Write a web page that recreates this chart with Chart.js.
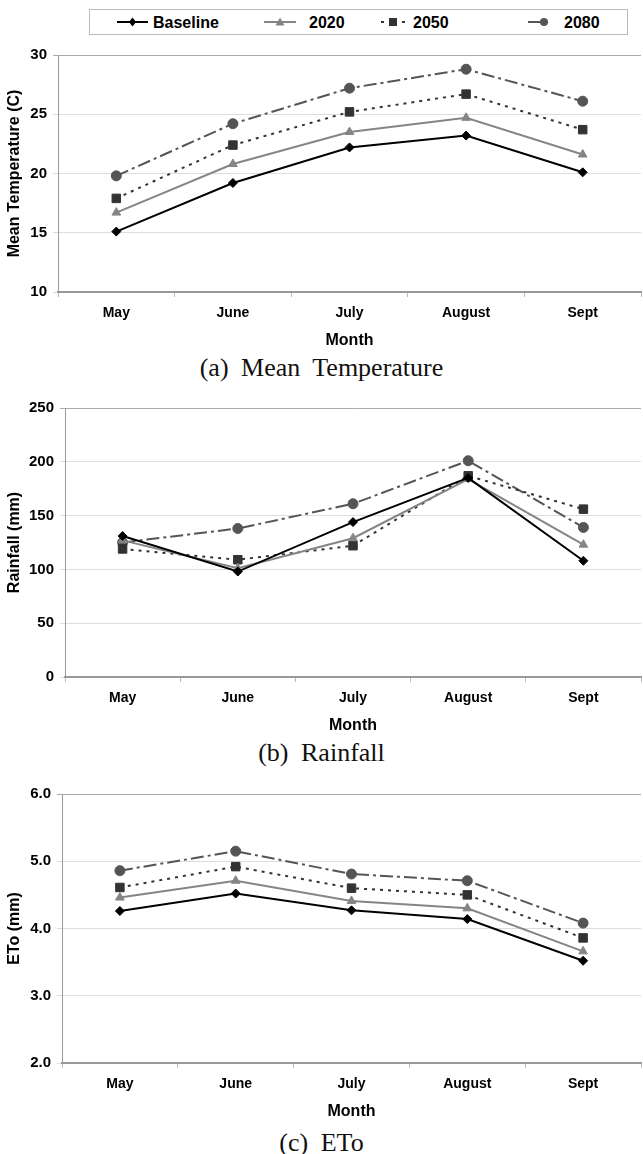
<!DOCTYPE html>
<html>
<head>
<meta charset="utf-8">
<script src="https://cdn.jsdelivr.net/npm/chart.js@4/dist/chart.umd.min.js"></script>
<style>
body { margin: 0; background: #fff; overflow: hidden; width: 643px; height: 1154px; position: relative; }
canvas { position: absolute; left: 0; }
.cap { position: absolute; left: 0; width: 643px; text-align: center; font-family: "Liberation Serif", serif; font-size: 26px; word-spacing: 6px; line-height: 30px; color: #111; }
#legendBox { position: absolute; left: 89px; top: 9px; width: 537px; height: 24px; border: 1px solid #bbb; }
.sym { position: absolute; top: 15px; }
.lbl { position: absolute; top: 14px; font-family: "Liberation Sans", Arial, sans-serif; font-weight: bold; font-size: 16px; line-height: 18px; color: #000; }
</style>
</head>
<body>
<div id="legendBox"></div>
<canvas id="chartA" width="648" height="312" style="top:40px"></canvas>
<div class="cap" style="top:353px">(a) Mean Temperature</div>
<canvas id="chartB" width="648" height="347" style="top:390px"></canvas>
<div class="cap" style="top:738px">(b) Rainfall</div>
<canvas id="chartC" width="648" height="348" style="top:775px"></canvas>
<div class="cap" style="top:1128px">(c) ETo</div>

<script>
const months = ["May", "June", "July", "August", "Sept"];
const seriesNames = ["Baseline", "2020", "2050", "2080"];

// (a) mean temperature, C
const tempBaseline = [15.1, 19.2, 22.2, 23.2, 20.1];
const temp2020 = [16.7, 20.8, 23.5, 24.7, 21.6];
const temp2050 = [17.9, 22.4, 25.2, 26.7, 23.7];
const temp2080 = [19.8, 24.2, 27.2, 28.8, 26.1];

// (b) rainfall, mm
const rainBaseline = [131, 98, 144, 185, 108];
const rain2020 = [127, 101, 129, 184, 123];
const rain2050 = [119, 109, 122, 187, 156];
const rain2080 = [125, 138, 161, 201, 139];

// (c) ETo, mm
const etoBaseline = [4.26, 4.52, 4.27, 4.14, 3.52];
const eto2020 = [4.46, 4.71, 4.41, 4.30, 3.66];
const eto2050 = [4.61, 4.92, 4.60, 4.50, 3.86];
const eto2080 = [4.86, 5.15, 4.81, 4.71, 4.08];

const styles = [
    { color: "#000000", width: 2, dash: [], point: "rectRot", radius: 4.5 },
    { color: "#858585", width: 2, dash: [], point: "triangle", radius: 5 },
    { color: "#333333", width: 2, dash: [3, 5], point: "rect", radius: 6 },
    { color: "#555555", width: 2, dash: [13, 4, 3, 4], point: "circle", radius: 5 }
];

const sansFont = "'Liberation Sans', Arial, sans-serif";

function makeDatasets(lists) {
    return lists.map((values, i) => ({
        label: seriesNames[i],
        data: values,
        borderColor: styles[i].color,
        backgroundColor: styles[i].color,
        borderWidth: styles[i].width,
        borderDash: styles[i].dash,
        pointStyle: styles[i].point,
        pointRadius: styles[i].radius,
        pointBorderWidth: 1,
        pointBorderColor: styles[i].color,
        pointBackgroundColor: styles[i].color,
        tension: 0,
        fill: false
    }));
}

function makeChart(id, lists, yMin, yMax, yStep, yTitle, yWidth, padTop, decimals) {
    const ctx = document.getElementById(id).getContext("2d");
    return new Chart(ctx, {
        type: "line",
        data: {
            labels: months,
            datasets: makeDatasets(lists)
        },
        options: {
            responsive: false,
            animation: false,
            layout: { padding: { top: padTop, right: 1, left: 0, bottom: 0 } },
            plugins: {
                legend: { display: false },
                tooltip: { enabled: false }
            },
            scales: {
                x: {
                    offset: true,
                    grid: { offset: true, drawOnChartArea: false, drawTicks: true, tickLength: 5, color: "#bbbbbb" },
                    border: { color: "#999999", width: 2 },
                    ticks: { font: { family: sansFont, size: 14, weight: "bold" }, color: "#000", padding: 8, maxRotation: 0 },
                    title: {
                        display: true,
                        text: "Month",
                        font: { family: sansFont, size: 16, weight: "bold" },
                        color: "#000",
                        padding: { top: 0, bottom: 2 }
                    },
                    afterFit: (scale) => { scale.height = 60; }
                },
                y: {
                    min: yMin,
                    max: yMax,
                    ticks: {
                        stepSize: yStep,
                        font: { family: sansFont, size: 15, weight: "bold" },
                        color: "#000",
                        padding: 6,
                        callback: (v) => Number(v).toFixed(decimals)
                    },
                    grid: {
                        color: (c) => (c.tick && c.tick.value === yMax) ? "#aaaaaa" : "#dddddd",
                        tickLength: 5
                    },
                    border: { color: "#999999" },
                    title: {
                        display: true,
                        text: yTitle,
                        font: { family: sansFont, size: 16, weight: "bold" },
                        color: "#000",
                        padding: { top: 5, bottom: 0 }
                    },
                    afterFit: (scale) => { scale.width = yWidth; }
                }
            }
        }
    });
}

makeChart("chartA", [tempBaseline, temp2020, temp2050, temp2080], 10, 30, 5, "Mean Temperature (C)", 58, 15, 0);
makeChart("chartB", [rainBaseline, rain2020, rain2050, rain2080], 0, 250, 50, "Rainfall (mm)", 65, 18, 0);
makeChart("chartC", [etoBaseline, eto2020, eto2050, eto2080], 2, 6, 1, "ETo (mm)", 62, 19, 1);

// legend row at the top: short line sample with marker, then the name
const legendSym = [117, 264, 380, 528];
const legendSymWidth = [31, 32, 26, 26];
const legendText = [153, 309, 413, 564];

function drawMarker(c, s, x, y) {
    c.fillStyle = s.color;
    c.beginPath();
    if (s.point === "rectRot") {
        c.moveTo(x, y - 4.5); c.lineTo(x + 3.5, y); c.lineTo(x, y + 4.5); c.lineTo(x - 3.5, y);
    } else if (s.point === "triangle") {
        c.moveTo(x, y - 4.5); c.lineTo(x + 4.5, y + 3.5); c.lineTo(x - 4.5, y + 3.5);
    } else if (s.point === "rect") {
        c.rect(x - 4, y - 4, 8, 8);
    } else {
        c.arc(x, y, 4, 0, Math.PI * 2);
    }
    c.closePath();
    c.fill();
}

seriesNames.forEach((name, i) => {
    const w = legendSymWidth[i];
    const cv = document.createElement("canvas");
    cv.width = w;
    cv.height = 14;
    cv.className = "sym";
    cv.style.left = legendSym[i] + "px";
    document.body.appendChild(cv);
    const c = cv.getContext("2d");
    const s = styles[i];
    c.strokeStyle = s.color;
    c.lineWidth = s.width;
    if (i === 2) {
        // dotted: one dot each side of the square
        c.beginPath();
        c.moveTo(1, 7); c.lineTo(4, 7);
        c.moveTo(w - 4, 7); c.lineTo(w - 1, 7);
        c.stroke();
    } else {
        c.beginPath();
        c.moveTo(0, 7);
        c.lineTo(i === 3 ? w - 6 : w, 7);
        c.stroke();
    }
    drawMarker(c, s, i === 3 ? w - 10 : w / 2, 7);

    const t = document.createElement("div");
    t.className = "lbl";
    t.style.left = legendText[i] + "px";
    t.textContent = name;
    document.body.appendChild(t);
});
</script>
</body>
</html>
